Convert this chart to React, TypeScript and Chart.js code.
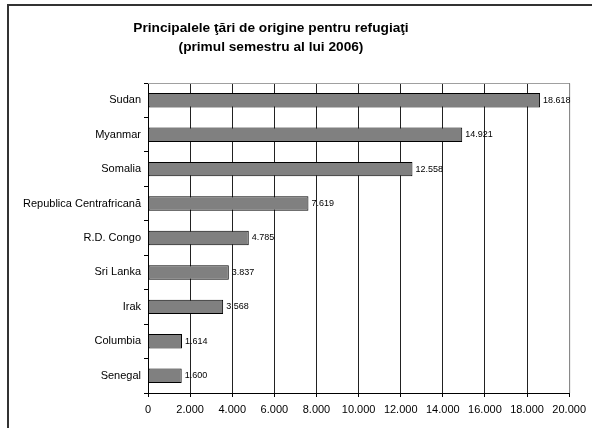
import React, { useEffect, useRef } from "react";
import { Chart, registerables } from "chart.js";

Chart.register(...registerables);

const titleLines = ["Principalele ţări de origine pentru refugiaţi", "(primul semestru al lui 2006)"];
const categories = [
  "Sudan",
  "Myanmar",
  "Somalia",
  "Republica Centrafricană",
  "R.D. Congo",
  "Sri Lanka",
  "Irak",
  "Columbia",
  "Senegal",
];
const refugees = [18618, 14921, 12558, 7619, 4785, 3837, 3568, 1614, 1600];
const xMin = 0;
const xMax = 20000;
const xStep = 2000;

const fmt = (v: number) => {
  const s = Math.round(v).toString();
  return s.replace(/\B(?=(\d{3})+(?!\d))/g, ".");
};

const FONT = "'Liberation Sans', Arial, sans-serif";

const framePlugin = {
  id: "frame",
  beforeDraw(chart: any) {
    const { ctx, width, height } = chart;
    ctx.save();
    ctx.fillStyle = "#fff";
    ctx.fillRect(0, 0, width, height);
    ctx.strokeStyle = "#333";
    ctx.lineWidth = 2;
    ctx.beginPath();
    ctx.moveTo(8, height + 5);
    ctx.lineTo(8, 5);
    ctx.lineTo(width + 5, 5);
    ctx.stroke();
    ctx.fillStyle = "#000";
    ctx.font = "bold 13.7px " + FONT;
    ctx.textAlign = "center";
    ctx.textBaseline = "middle";
    ctx.fillText(titleLines[0], 271, 28);
    ctx.fillText(titleLines[1], 271, 47);
    ctx.restore();
  },
  afterDatasetsDraw(chart: any) {
    const { ctx, chartArea } = chart;
    ctx.save();
    ctx.strokeStyle = "#a0a0a0";
    ctx.lineWidth = 1;
    ctx.beginPath();
    ctx.moveTo(chartArea.left, chartArea.top + 0.5);
    ctx.lineTo(chartArea.right + 0.5, chartArea.top + 0.5);
    ctx.lineTo(chartArea.right + 0.5, chartArea.bottom);
    ctx.stroke();
    const meta = chart.getDatasetMeta(0);
    ctx.fillStyle = "#000";
    ctx.font = "9px " + FONT;
    ctx.textAlign = "left";
    ctx.textBaseline = "middle";
    meta.data.forEach((bar: any, i: number) => {
      ctx.fillText(fmt(refugees[i]), bar.x + 3, bar.y);
    });
    ctx.restore();
  },
};

export default function App() {
  const ref = useRef<HTMLCanvasElement>(null);
  useEffect(() => {
    if (!ref.current) return;
    const chart = new Chart(ref.current, {
      type: "bar",
      data: {
        labels: categories,
        datasets: [
          {
            data: refugees,
            backgroundColor: "#808080",
            borderColor: "#000",
            borderWidth: 1,
            borderSkipped: false,
            categoryPercentage: 1,
            barPercentage: 0.42,
          },
        ],
      },
      options: {
        indexAxis: "y",
        animation: false,
        responsive: false,
        maintainAspectRatio: false,
        layout: { padding: { top: 83, right: 22, left: 0, bottom: 0 } },
        plugins: {
          legend: { display: false },
          title: { display: false },
          tooltip: { enabled: false },
        },
        scales: {
          x: {
            min: xMin,
            max: xMax,
            ticks: {
              stepSize: xStep,
              color: "#000",
              font: { family: FONT, size: 11 },
              padding: 6,
              maxRotation: 0,
              callback: (v: any) => fmt(Number(v)),
            },
            grid: {
              color: "#222",
              lineWidth: 1,
              drawTicks: true,
              tickLength: 4,
              tickColor: "#000",
            },
            border: { display: true, color: "#000", width: 1 },
            afterFit: (s: any) => {
              s.height = 35;
            },
          },
          y: {
            ticks: {
              color: "#000",
              font: { family: FONT, size: 11 },
              padding: 3,
            },
            grid: {
              offset: true,
              drawOnChartArea: false,
              drawTicks: true,
              tickLength: 4,
              tickColor: "#000",
            },
            border: { display: true, color: "#000", width: 1 },
            afterFit: (s: any) => {
              s.width = 148;
            },
          },
        },
      },
      plugins: [framePlugin],
    });
    return () => chart.destroy();
  }, []);
  return (
    <div style={{ position: "fixed", left: 0, top: 0, width: 592, height: 428 }}>
      <canvas ref={ref} width={592} height={428} style={{ width: 592, height: 428, display: "block" }} />
    </div>
  );
}
